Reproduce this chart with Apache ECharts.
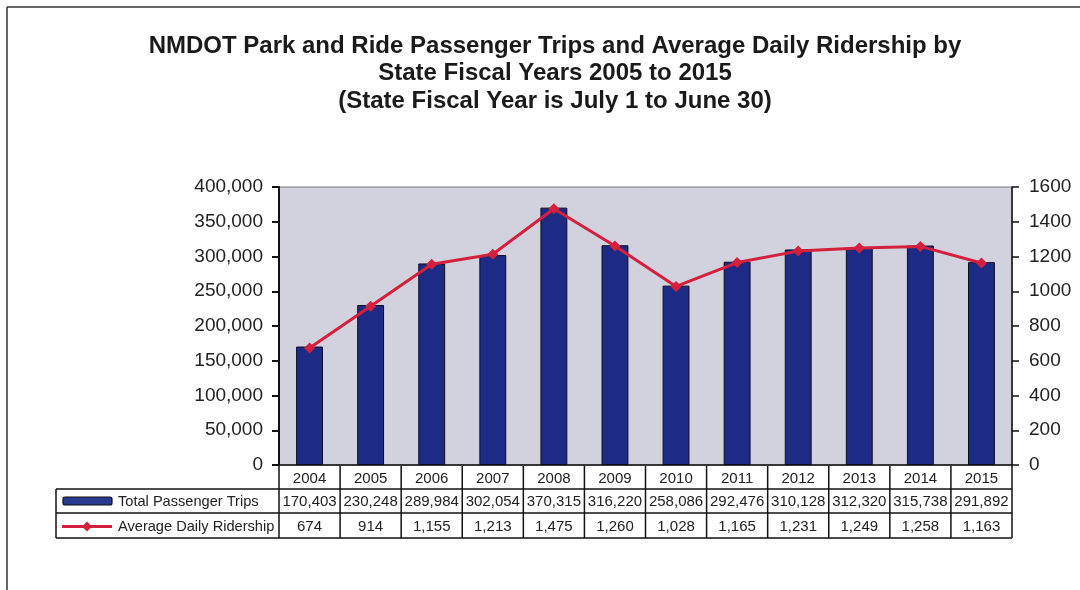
<!DOCTYPE html>
<html><head><meta charset="utf-8">
<script src="https://cdn.jsdelivr.net/npm/echarts@6/dist/echarts.min.js"></script>
<style>html,body{margin:0;padding:0;background:#fff}#c{width:1080px;height:590px}</style>
</head><body><div id="c"></div>
<script>
const years = ['2004','2005','2006','2007','2008','2009','2010','2011','2012','2013','2014','2015'];
const trips = [170403,230248,289984,302054,370315,316220,258086,292476,310128,312320,315738,291892];
const ridership = [674,914,1155,1213,1475,1260,1028,1165,1231,1249,1258,1163];
const seriesNames = ['Total Passenger Trips','Average Daily Ridership'];
const titleLines = ['NMDOT Park and Ride Passenger Trips and Average Daily Ridership by','State Fiscal Years 2005 to 2015','(State Fiscal Year is July 1 to June 30)'];

const fmt = v => v.toLocaleString('en-US');
const chart = echarts.init(document.getElementById('c'));
const FONT = 'Liberation Sans, Arial, sans-serif';
const gridL = 279, gridR = 68, gridT = 187, gridB = 125;

chart.setOption({
  animation: false,
  textStyle: {fontFamily: FONT},
  grid: {left: gridL, right: gridR, top: gridT, bottom: gridB, show: true,
         backgroundColor: '#d2d2df', borderColor: '#777', borderWidth: 1},
  xAxis: {type: 'category', data: years,
          axisLine: {lineStyle: {color: '#111', width: 1.5}},
          axisTick: {show: false}, axisLabel: {show: false}},
  yAxis: [
    {type: 'value', min: 0, max: 400000, interval: 50000, position: 'left',
     axisLine: {show: true, lineStyle: {color: '#111', width: 2}},
     axisTick: {show: true, length: 7, lineStyle: {color: '#111', width: 2}},
     splitLine: {show: false},
     axisLabel: {formatter: v => fmt(v), fontSize: 19, color: '#222', margin: 16}},
    {type: 'value', min: 0, max: 1600, interval: 200, position: 'right',
     axisLine: {show: true, lineStyle: {color: '#111', width: 1.5}},
     axisTick: {show: true, length: 7, lineStyle: {color: '#111', width: 1.5}},
     splitLine: {show: false},
     axisLabel: {formatter: v => String(v), fontSize: 19, color: '#222', margin: 17}}
  ],
  series: [
    {name: seriesNames[0], type: 'bar', data: trips, yAxisIndex: 0, barWidth: '44%',
     itemStyle: {color: '#1e2b86', borderColor: '#0c0c20', borderWidth: 1}},
    {name: seriesNames[1], type: 'line', data: ridership, yAxisIndex: 1,
     symbol: 'diamond', symbolSize: 11,
     lineStyle: {color: '#d4203c', width: 3}, itemStyle: {color: '#d4203c'}}
  ]
});

// data table drawn below the plot
const x0 = chart.convertToPixel({xAxisIndex: 0}, years[0]);
const x1 = chart.convertToPixel({xAxisIndex: 0}, years[1]);
const colW = x1 - x0;
const plotLeft = gridL, plotRight = 1080 - gridR;
const rowTops = [466, 489, 513, 538];
const tableLeft = 56;
const g = [];
const lineStyle = {stroke: '#111', lineWidth: 1.5};
for (let r = 1; r < 4; r++) {
  g.push({type: 'line', shape: {x1: tableLeft, y1: rowTops[r], x2: plotRight, y2: rowTops[r]}, style: lineStyle});
}
g.push({type: 'line', shape: {x1: tableLeft, y1: rowTops[1], x2: tableLeft, y2: rowTops[3]}, style: lineStyle});
g.push({type: 'line', shape: {x1: plotLeft, y1: rowTops[0], x2: plotLeft, y2: rowTops[3]}, style: lineStyle});
years.forEach((y, i) => {
  const cx = chart.convertToPixel({xAxisIndex: 0}, y);
  const right = cx + colW / 2;
  g.push({type: 'line', shape: {x1: right, y1: rowTops[0], x2: right, y2: rowTops[3]}, style: lineStyle});
  const cells = [y, fmt(trips[i]), fmt(ridership[i])];
  cells.forEach((t, r) => {
    g.push({type: 'text', x: cx, y: (rowTops[r] + rowTops[r+1]) / 2 + 1,
      style: {text: t, fontSize: 15, fontFamily: FONT, fill: '#222', align: 'center', verticalAlign: 'middle'}});
  });
});
// legend keys in table
g.push({type: 'rect', shape: {x: 63, y: 497, width: 49, height: 8, r: 2},
  style: {fill: '#2a3a8e', stroke: '#111', lineWidth: 1.2}});
const ly = (rowTops[2] + rowTops[3]) / 2 + 1;
g.push({type: 'line', shape: {x1: 62, y1: ly, x2: 112, y2: ly},
  style: {stroke: '#d4203c', lineWidth: 3}});
g.push({type: 'polygon', shape: {points: [[87, ly - 5], [92, ly], [87, ly + 5], [82, ly]]}, style: {fill: '#d4203c'}});
seriesNames.forEach((n, k) => {
  g.push({type: 'text', x: 118, y: (rowTops[k+1] + rowTops[k+2]) / 2 + 1,
    style: {text: n, fontSize: 14.6, fontFamily: FONT, fill: '#222', align: 'left', verticalAlign: 'middle'}});
});
// title
titleLines.forEach((t, k) => {
  g.push({type: 'text', x: 555, y: 46 + k * 27.5,
    style: {text: t, fontSize: 24, fontWeight: 'bold', fontFamily: FONT, fill: '#1a1a1a', align: 'center', verticalAlign: 'middle'}});
});
// page frame
g.push({type: 'line', shape: {x1: 7, y1: 7, x2: 1080, y2: 7}, style: {stroke: '#333', lineWidth: 1.5}});
g.push({type: 'line', shape: {x1: 7, y1: 7, x2: 7, y2: 590}, style: {stroke: '#333', lineWidth: 1.5}});
chart.setOption({graphic: g});
</script></body></html>
